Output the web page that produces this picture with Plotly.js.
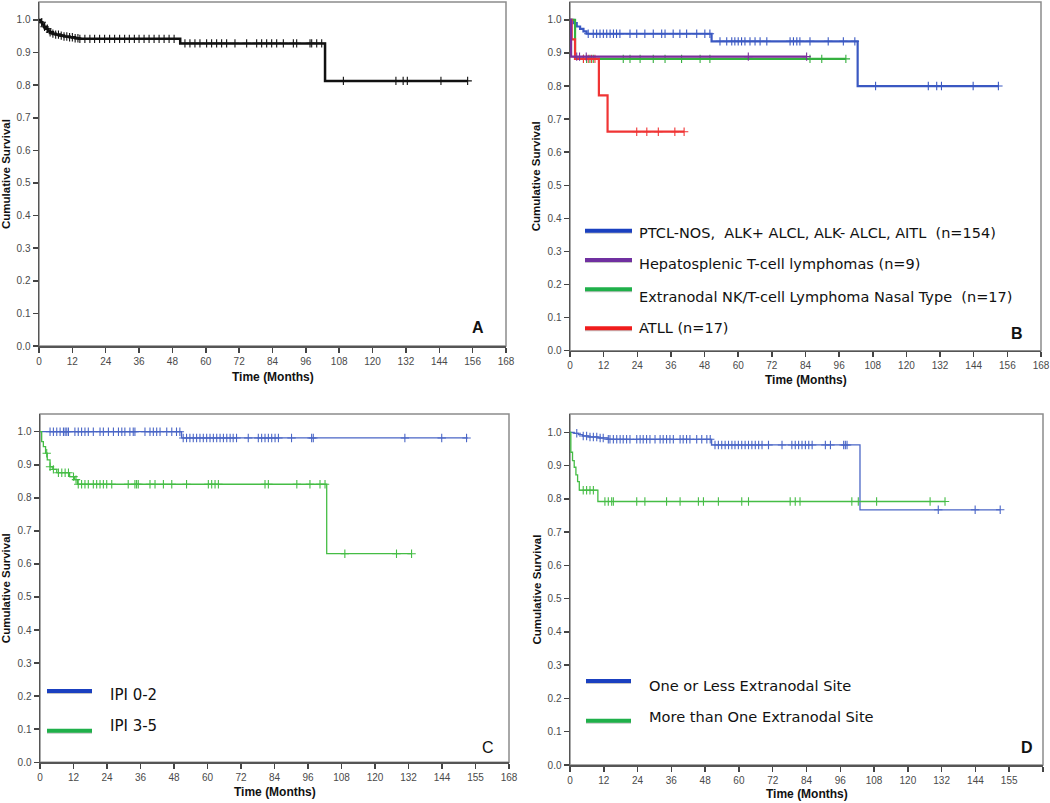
<!DOCTYPE html>
<html>
<head>
<meta charset="utf-8">
<script src="https://cdn.plot.ly/plotly-3.0.1.min.js"></script>
<style>html,body{margin:0;padding:0;background:#fff;}#chart{width:1050px;height:803px;}</style>
</head>
<body>
<div id="chart"></div>
<script>
// ---------------- DATA ----------------
const xTickVals = [0, 12, 24, 36, 48, 60, 72, 84, 96, 108, 120, 132, 144, 156, 168];
const xTickTextAB = ["0","12","24","36","48","60","72","84","96","108","120","132","144","156","168"];
const xTickTextCD = ["0","12","24","36","48","60","72","84","96","108","120","132","144","155","168"];

// Panel A: all patients
const aTimes = [0, 0.6, 1.2, 1.8, 2.5, 3.2, 4, 5, 6, 7.5, 9, 11, 13, 14.5, 50.8, 102.9];
const aSurv  = [1.0, 0.993, 0.986, 0.979, 0.973, 0.967, 0.962, 0.958, 0.955, 0.952, 0.949, 0.947, 0.944, 0.942, 0.928, 0.813];
const aEnd = 154.2;
const aCensor = [1, 2, 3, 4, 5, 6, 7, 8, 9, 10, 11, 12, 13, 14, 14.7, 16.5, 18.3, 20, 21.8, 23.6, 25.4, 27.2, 29, 30.8, 32.5, 34.3, 36, 37.8, 39.6, 41.4, 43.2, 45, 46.8, 48.6,
  52.5, 54.3, 56.1, 57.9, 60.3, 62.1, 63.9, 65.7, 67.5, 70.5, 74.7, 78.3, 80.1, 81.9, 83.7, 85.5, 87.9, 91.5, 92.7, 97.5, 98.1, 99.9, 101.7,
  109.5, 128.4, 131, 132.5, 144.6, 154.2];

// Panel B: by subtype
const bBlueTimes = [0, 1.2, 2.4, 3.6, 4.8, 5.9, 50.5, 102.6];
const bBlueSurv  = [1.0, 0.99, 0.98, 0.973, 0.965, 0.958, 0.935, 0.80];
const bBlueEnd = 152.8;
const bBlueCensor = [6.5, 8.3, 9.5, 10.7, 11.9, 13.1, 14.3, 15.5, 16.6, 17.8, 21.4, 23.8, 26.7, 29.7, 32.7, 33.9, 36.8, 39.2, 41.6, 45.2, 48.1, 49.9,
  53.5, 55.9, 57.7, 58.8, 60, 61.2, 62.4, 64.2, 66, 67.8, 70.2, 78.5, 79.7, 80.9, 82, 85.6, 92.1, 97.5, 101.6,
  109, 127.8, 130.8, 132.5, 143.8, 152.8];

const bPurpleTimes = [0, 0.4];
const bPurpleSurv  = [1.0, 0.889];
const bPurpleEnd = 84.4;
const bPurpleCensor = [2.4, 3.4, 5.8, 63.6, 84.4];

const bGreenTimes = [0, 1.8];
const bGreenSurv  = [1.0, 0.882];
const bGreenEnd = 98.4;
const bGreenCensor = [4.8, 5.9, 7.1, 8.3, 19, 21.4, 25, 29.7, 33.9, 39.8, 46.4, 49.9, 85.6, 89.8, 98.4];

const bRedTimes = [0, 0.6, 1.8, 10.3, 13.4];
const bRedSurv  = [1.0, 0.941, 0.882, 0.772, 0.662];
const bRedEnd = 40.7;
const bRedCensor = [4.8, 6.5, 7.7, 8.9, 23.8, 27.4, 31.5, 37.4, 40.7];

// Panel C: by IPI
const cBlueTimes = [0, 50.7];
const cBlueSurv  = [1.0, 0.981];
const cBlueEnd = 153.2;
const cBlueCensor = [3.6, 4.8, 6.0, 7.2, 8.4, 9.0, 9.6, 10.2, 12.5, 13.7, 14.9, 16.1, 17.3, 19.1, 21.5, 22.7, 24.5, 26.3, 28.1, 29.3, 30.4, 32.2, 33.4, 34.0, 37.6, 39.4, 40.6, 41.8, 43.0, 45.4, 47.2, 48.9, 50.1,
  51.3, 52.5, 53.7, 54.9, 56.1, 57.3, 58.5, 59.7, 60.9, 62.1, 63.3, 64.5, 65.7, 66.9, 68.1, 69.2, 70.4, 74.6, 78.2, 79.4, 80.6, 81.8, 83.0, 84.2, 85.4, 90.1, 97.3, 97.9, 130.7, 143.9, 152.8];

const cGreenTimes = [0, 0.6, 1.2, 2.0, 2.6, 3.6, 4.6, 6.0, 10.6, 12.4, 13.4, 102.7];
const cGreenSurv  = [1.0, 0.97, 0.955, 0.935, 0.915, 0.894, 0.886, 0.876, 0.864, 0.855, 0.841, 0.631];
const cGreenEnd = 133.1;
const cGreenCensor = [2.4, 3.6, 4.8, 6.6, 7.8, 9.0, 10.2, 12.0, 12.9, 13.7, 14.9, 16.1, 17.3, 19.1, 20.3, 21.5, 22.7, 23.9, 25.7, 31.6, 34.0, 34.6, 35.2, 39.4, 41.2, 44.2, 47.2, 52.5, 60.3, 61.5, 62.7, 63.9, 80.6, 81.8, 92.0, 96.7, 100.3, 102.1,
  109.2, 127.7, 133.1];

// Panel D: by extranodal sites
const dBlueTimes = [0, 1.5, 3.0, 4.5, 6.5, 10, 13.5, 50.3, 103];
const dBlueSurv  = [1.0, 0.997, 0.993, 0.989, 0.986, 0.983, 0.979, 0.962, 0.767];
const dBlueEnd = 152.8;
const dBlueCensor = [2.4, 4.7, 5.9, 7.1, 8.3, 9.5, 10.7, 11.8, 13.6, 14.2, 15.4, 16.6, 17.8, 18.9, 20.1, 21.3, 23.7, 24.9, 26.0, 27.2, 28.4, 30.2, 32.0, 33.1, 34.3, 35.5, 36.7, 39.1, 40.2, 41.4, 42.6, 45.0, 46.8, 48.6, 49.8,
  51.5, 52.7, 53.9, 55.1, 56.3, 57.5, 58.6, 59.8, 61.0, 62.2, 63.4, 64.6, 65.8, 67.0, 68.2, 70.5, 75.3, 78.8, 80.0, 81.2, 82.4, 83.6, 84.8, 86.0, 90.7, 92.5, 97.2, 97.8, 98.4,
  130.8, 143.9, 152.8];

const dGreenTimes = [0, 0.3, 0.9, 1.5, 2.1, 2.7, 3.3, 9.9];
const dGreenSurv  = [1.0, 0.94, 0.915, 0.895, 0.872, 0.852, 0.826, 0.792];
const dGreenEnd = 133.2;
const dGreenCensor = [4.7, 5.9, 7.1, 8.3, 12.4, 13.6, 14.8, 15.4, 23.7, 26.6, 34.3, 39.1, 45.6, 47.4, 52.7, 61.0, 63.4, 78.2, 80.0, 81.7, 100.1, 102.4, 108.9, 127.9, 133.2];

const legendB = ["PTCL-NOS,  ALK+ ALCL, ALK- ALCL, AITL  (n=154)", "Hepatosplenic T-cell lymphomas (n=9)", "Extranodal NK/T-cell Lymphoma Nasal Type  (n=17)", "ATLL (n=17)"];
const legendC = ["IPI 0-2", "IPI 3-5"];
const legendD = ["One or Less Extranodal Site", "More than One Extranodal Site"];
const panelLetters = ["A", "B", "C", "D"];

// ---------------- HELPERS ----------------
const W = 1050, H = 803;
const px = v => v / W;
const py = v => 1 - v / H;

function stepAt(times, surv, t) {
  let s = surv[0];
  for (let i = 0; i < times.length; i++) { if (times[i] <= t) s = surv[i]; }
  return s;
}
function kmTraces(times, surv, end, censor, color, width, xa, ya, msize) {
  const xs = times.concat([end]);
  const ys = surv.concat([surv[surv.length - 1]]);
  return [
    {x: xs, y: ys, xaxis: xa, yaxis: ya, mode: 'lines', line: {shape: 'hv', color: color, width: width}, hoverinfo: 'skip', showlegend: false},
    {x: censor, y: censor.map(t => stepAt(times, surv, t)), xaxis: xa, yaxis: ya, mode: 'markers',
     marker: {symbol: 'cross-thin', size: msize, color: color, line: {color: color, width: 1.1}}, hoverinfo: 'skip', showlegend: false}
  ];
}

const cBlue = '#3a58c2', cPurple = '#7a2e9a', cGreenB = '#35b03f', cRed = '#f03434';
const cBlueThin = '#4a66c6', cGreenThin = '#45bd45';

let traces = [];
traces = traces.concat(kmTraces(aTimes, aSurv, aEnd, aCensor, '#111111', 2.5, 'x', 'y', 6));
traces = traces.concat(kmTraces(bBlueTimes, bBlueSurv, bBlueEnd, bBlueCensor, cBlue, 2.2, 'x2', 'y2', 6));
traces = traces.concat(kmTraces(bGreenTimes, bGreenSurv, bGreenEnd, bGreenCensor, cGreenB, 2.2, 'x2', 'y2', 6));
traces = traces.concat(kmTraces(bRedTimes, bRedSurv, bRedEnd, bRedCensor, cRed, 2.2, 'x2', 'y2', 6));
traces = traces.concat(kmTraces(bPurpleTimes, bPurpleSurv, bPurpleEnd, bPurpleCensor, cPurple, 2.2, 'x2', 'y2', 6));
traces = traces.concat(kmTraces(cBlueTimes, cBlueSurv, cBlueEnd, cBlueCensor, cBlueThin, 1.3, 'x3', 'y3', 6));
traces = traces.concat(kmTraces(cGreenTimes, cGreenSurv, cGreenEnd, cGreenCensor, cGreenThin, 1.3, 'x3', 'y3', 6));
traces = traces.concat(kmTraces(dBlueTimes, dBlueSurv, dBlueEnd, dBlueCensor, cBlueThin, 1.3, 'x4', 'y4', 6));
traces = traces.concat(kmTraces(dGreenTimes, dGreenSurv, dGreenEnd, dGreenCensor, cGreenThin, 1.3, 'x4', 'y4', 6));

// panel geometry (pixels)
const panels = [
  {l: 39,  r: 506,  t: 2,   b: 346,   ymax: 1.055, ticktext: xTickTextAB, xt: 377, yt: 6},
  {l: 570, r: 1041, t: 2,   b: 350.7, ymax: 1.054, ticktext: xTickTextAB, xt: 380, yt: 536},
  {l: 40,  r: 509,  t: 414, b: 762.3, ymax: 1.0535, ticktext: xTickTextCD, xt: 792, yt: 6},
  {l: 570, r: 1043, t: 414, b: 765,   ymax: 1.055, ticktext: xTickTextCD, xt: 794, yt: 536}
];

const tickFont = {family: 'Liberation Sans, Arial, sans-serif', size: 10, color: '#4a4a4a'};
const layout = {
  width: W, height: H, margin: {l: 0, r: 0, t: 0, b: 0},
  paper_bgcolor: '#ffffff', plot_bgcolor: '#ffffff', showlegend: false,
  shapes: [], annotations: []
};
panels.forEach((p, i) => {
  const n = i === 0 ? '' : String(i + 1);
  layout['xaxis' + n] = {
    domain: [px(p.l), px(p.r)], anchor: 'y' + n, range: [0, 168],
    tickvals: xTickVals, ticktext: p.ticktext, ticks: 'outside', ticklen: 5, tickwidth: 1.5, tickcolor: '#444',
    showline: true, linecolor: '#555', linewidth: 1.5, showgrid: false, zeroline: false, tickfont: tickFont, fixedrange: true
  };
  layout['yaxis' + n] = {
    domain: [py(p.b), py(p.t)], anchor: 'x' + n, range: [0, p.ymax],
    tickvals: [0, 0.1, 0.2, 0.3, 0.4, 0.5, 0.6, 0.7, 0.8, 0.9, 1.0], tickformat: '.1f',
    ticks: 'outside', ticklen: 5, tickwidth: 1.5, tickcolor: '#444',
    showline: true, linecolor: '#555', linewidth: 1.5, showgrid: false, zeroline: false, tickfont: tickFont, fixedrange: true
  };
  layout.shapes.push({type: 'rect', xref: 'x' + n + ' domain', yref: 'y' + n + ' domain', x0: 0, x1: 1, y0: 0, y1: 1,
    line: {color: '#8c8c8c', width: 1.5}, layer: 'below'});
  layout.annotations.push({xref: 'paper', yref: 'paper', x: px((p.l + p.r) / 2), y: py(p.xt), text: '<b>Time (Months)</b>',
    showarrow: false, xanchor: 'center', yanchor: 'middle', font: {family: 'Liberation Sans, Arial, sans-serif', size: 12, color: '#111'}});
  layout.annotations.push({xref: 'paper', yref: 'paper', x: px(p.yt), y: py((p.t + p.b) / 2), text: '<b>Cumulative Survival</b>', textangle: -90,
    showarrow: false, xanchor: 'center', yanchor: 'middle', font: {family: 'Liberation Sans, Arial, sans-serif', size: 11.5, color: '#111'}});
});

// panel letters
const letterPos = [[478, 327, true], [1017, 333, true], [488, 747, false], [1027, 747, true]];
letterPos.forEach((lp, i) => {
  layout.annotations.push({xref: 'paper', yref: 'paper', x: px(lp[0]), y: py(lp[1]),
    text: lp[2] ? '<b>' + panelLetters[i] + '</b>' : panelLetters[i], showarrow: false, xanchor: 'center', yanchor: 'middle',
    font: {family: 'Liberation Sans, Arial, sans-serif', size: 16, color: '#111'}});
});

// legends (line swatches + text)
function legendItem(x0, x1, ly, tx, ty, color, label, size) {
  layout.shapes.push({type: 'line', xref: 'paper', yref: 'paper', x0: px(x0), x1: px(x1), y0: py(ly + 1.8), y1: py(ly + 1.8),
    line: {color: 'rgba(90,90,90,0.35)', width: 2.5}});
  layout.shapes.push({type: 'line', xref: 'paper', yref: 'paper', x0: px(x0), x1: px(x1), y0: py(ly), y1: py(ly),
    line: {color: color, width: 4}});
  layout.annotations.push({xref: 'paper', yref: 'paper', x: px(tx), y: py(ty), text: label, showarrow: false,
    xanchor: 'left', yanchor: 'middle', font: {family: 'DejaVu Sans, Liberation Sans, sans-serif', size: size, color: '#111'}});
}
const legBColors = ['#1a40c0', '#7030a0', '#1fb04a', '#f01c1c'];
const legBLineY = [230.7, 260, 289.3, 328.3];
const legBTextY = [233, 264, 296.7, 327.7];
legendB.forEach((lab, i) => legendItem(585, 632, legBLineY[i], 637, legBTextY[i], legBColors[i], lab, 14.5));
const legCDColors = ['#1a40c0', '#1fb04a'];
legendC.forEach((lab, i) => legendItem(47, 92, [691, 730.7][i], 108, [695, 726][i], legCDColors[i], lab, 15));
legendD.forEach((lab, i) => legendItem(586, 631, [681, 720.7][i], 647, [685, 716][i], legCDColors[i], lab, 14.6));

Plotly.newPlot('chart', traces, layout, {staticPlot: true, displayModeBar: false});
</script>
</body>
</html>
